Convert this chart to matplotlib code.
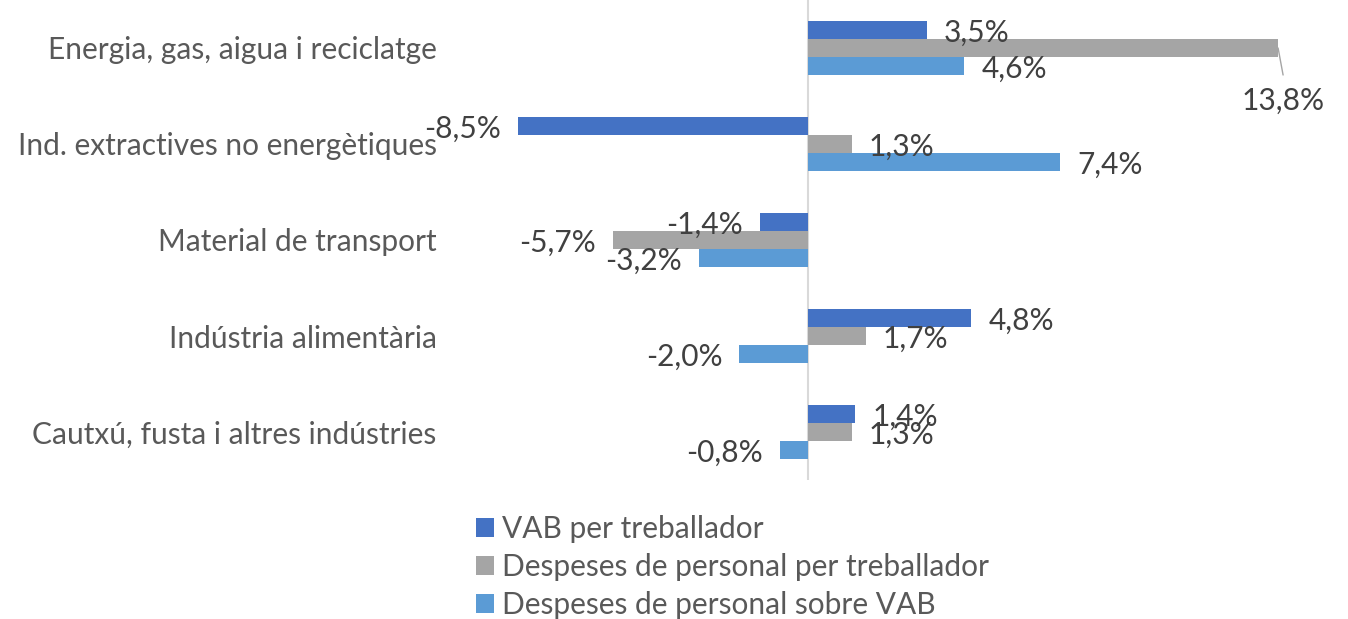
import numpy as np
import matplotlib
matplotlib.use("Agg")
import matplotlib.pyplot as plt
from matplotlib.patches import Patch

plt.rcParams['font.family'] = ['Lato', 'DejaVu Sans']

categories = ["Energia, gas, aigua i reciclatge",
              "Ind. extractives no energètiques",
              "Material de transport",
              "Indústria alimentària",
              "Cautxú, fusta i altres indústries"]
series_names = ["VAB per treballador",
                "Despeses de personal per treballador",
                "Despeses de personal sobre VAB"]
vab = [3.5, -8.5, -1.4, 4.8, 1.4]
despeses_treb = [13.8, 1.3, -5.7, 1.7, 1.3]
despeses_vab = [4.6, 7.4, -3.2, -2.0, -0.8]

colors = ["#4472C4", "#A5A5A5", "#5B9BD5"]
FS = 21.5
PX = 0.72  # points per pixel at dpi 100
# label moved by hand in the original (series, category) -> (dx px, dy px)
label_moves = {(1, 0): (5, -53)}

def fmt(v):
    return ("%.1f%%" % v).replace(".", ",")

def main():
    fig = plt.figure(figsize=(13.48, 6.19), dpi=100)
    ax = fig.add_axes([466.7 / 1348, 1 - 480 / 619, 852.3 / 1348, 480 / 619])

    y = np.arange(len(categories))
    h = 0.19
    all_series = [vab, despeses_treb, despeses_vab]
    for s, vals in enumerate(all_series):
        ypos = y + (s - 1) * h
        ax.barh(ypos, vals, height=h, color=colors[s], label=series_names[s])
        for c, v in enumerate(vals):
            if (s, c) in label_moves:
                dx, dy = label_moves[(s, c)]
                ax.annotate("", xy=(v, ypos[c]), xytext=(dx * PX, (dy + 26) * PX),
                            textcoords="offset points",
                            arrowprops=dict(arrowstyle="-", color="#A5A5A5", lw=1.0,
                                            shrinkA=0, shrinkB=0))
                ax.annotate(fmt(v), xy=(v, ypos[c]), xytext=(dx * PX, dy * PX),
                            textcoords="offset points", ha="center", va="center",
                            fontsize=FS, color="#404040")
                continue
            off = 17 * PX if v >= 0 else -17 * PX
            ax.annotate(fmt(v), xy=(v, ypos[c]), xytext=(off, -2),
                        textcoords="offset points",
                        ha="left" if v >= 0 else "right", va="center",
                        fontsize=FS, color="#404040")

    ax.axvline(0, color="#D9D9D9", lw=1.5, zorder=0)
    ax.set_xlim(-10, 15)
    ax.set_ylim(len(categories) - 0.5, -0.5)
    ax.set_xticks([])
    ax.set_yticks(y)
    ax.set_yticklabels(categories, fontsize=FS, color="#595959")
    ax.tick_params(axis="y", length=0, pad=30 * PX)
    for sp in ax.spines.values():
        sp.set_visible(False)

    handles = [Patch(facecolor=colors[i], label=series_names[i]) for i in range(3)]
    fig.legend(handles=handles, loc="upper left",
               bbox_to_anchor=(476 / 1348, 1 - 515 / 619),
               frameon=False, fontsize=FS, labelcolor="#595959",
               handlelength=0.6, handleheight=0.6, handletextpad=0.27,
               labelspacing=0.34, borderpad=0, borderaxespad=0)

    fig.savefig("out.png", dpi=100)

if __name__ == "__main__":
    main()
